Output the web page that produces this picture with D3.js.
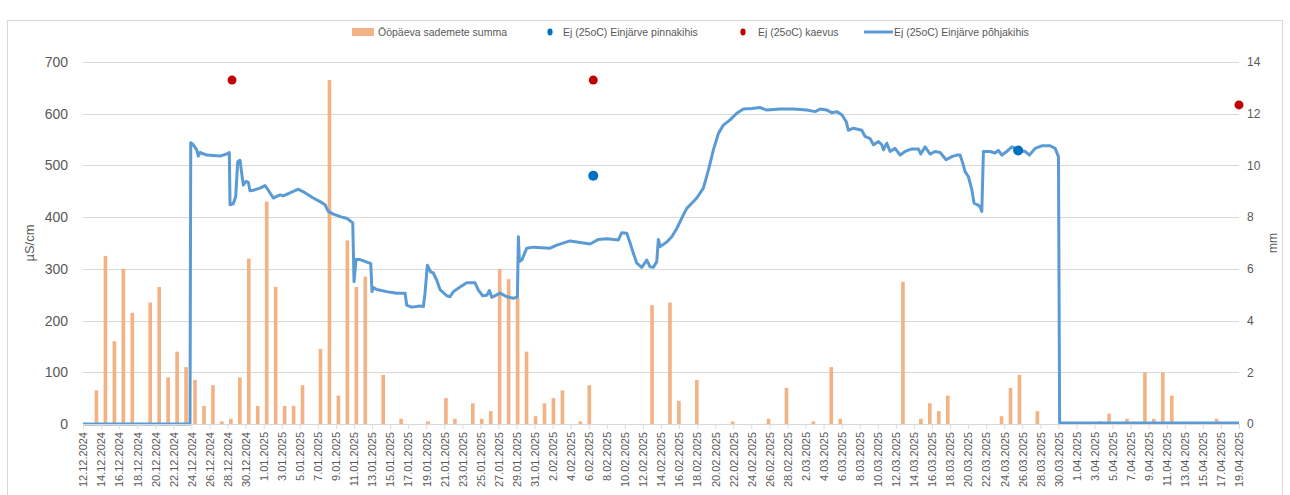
<!DOCTYPE html>
<html>
<head>
<meta charset="utf-8">
<script src="https://cdn.jsdelivr.net/npm/d3@7"></script>
<style>
  body { margin: 0; background: #fff; }
  text { font-family: "Liberation Sans", Arial, sans-serif; fill: #595959; }
</style>
</head>
<body>
<div id="wrapper"></div>
<script>
// days run from 12.12.2024 (day 0) to 19.04.2025 (day 128)
const startDay = "2024-12-12";
const dayCount = 129;

// daily precipitation sum, mm (right axis)
const precipitation = [
  0, 1.3, 6.5, 3.2, 6.0, 4.3, 0.05, 4.7, 5.3, 1.8,
  2.8, 2.2, 1.7, 0.7, 1.5, 0.1, 0.2, 1.8, 6.4, 0.7,
  8.6, 5.3, 0.7, 0.7, 1.5, 0, 2.9, 13.3, 1.1, 7.1,
  5.3, 5.7, 0, 1.9, 0, 0.2, 0, 0, 0.1, 0,
  1.0, 0.2, 0, 0.8, 0.2, 0.5, 6.0, 5.6, 4.9, 2.8,
  0.3, 0.8, 1.0, 1.3, 0, 0.1, 1.5, 0, 0, 0,
  0, 0, 0, 4.6, 0, 4.7, 0.9, 0, 1.7, 0,
  0, 0, 0.1, 0, 0, 0, 0.2, 0, 1.4, 0,
  0, 0.1, 0, 2.2, 0.2, 0, 0, 0, 0, 0,
  0, 5.5, 0, 0.2, 0.8, 0.5, 1.1, 0, 0, 0,
  0, 0, 0.3, 1.4, 1.9, 0, 0.5, 0, 0, 0,
  0, 0, 0, 0.1, 0.4, 0, 0.2, 0, 2.0, 0.2,
  2.0, 1.1, 0, 0, 0, 0, 0.2, 0, 0
];

// bottom layer conductivity, µS/cm (day offset, value)
const bottomDays = [
  0, 11.85, 11.93, 12.21, 12.59, 12.77, 12.96, 13.7, 15.17, 15.91,
  16.2, 16.28, 16.64, 16.91, 17.13, 17.39, 17.57, 17.75, 18.05, 18.31,
  18.49, 18.86, 19.6, 20.16, 20.52, 21.07, 21.45, 21.82, 22.18, 22.92,
  23.84, 24.4, 25.5, 26.25, 26.8, 27.16, 27.72, 28.65, 29.2, 29.87,
  30.01, 30.23, 30.68, 31.59, 31.86, 32.0, 32.15, 32.52, 33.63, 34.74,
  35.66, 35.84, 36.4, 37.32, 37.69, 37.87, 38.13, 38.5, 38.79, 39.17,
  39.53, 40.28, 40.64, 41.01, 41.75, 42.49, 43.41, 43.78, 44.26, 44.71,
  45.0, 45.26, 46.18, 46.92, 47.65, 48.1, 48.21, 48.32, 48.58, 49.14,
  49.87, 51.72, 52.46, 53.93, 55.04, 56.15, 57.07, 58.0, 59.28, 59.65,
  60.21, 60.58, 60.94, 61.32, 61.87, 62.43, 62.79, 63.16, 63.53, 63.71,
  63.9, 64.64, 65.19, 65.75, 66.3, 66.85, 67.41, 67.96, 68.69, 69.25,
  69.8, 70.36, 70.91, 71.65, 72.39, 73.12, 74.05, 74.97, 75.71, 77.19,
  78.66, 80.14, 81.06, 81.62, 82.36, 82.91, 83.46, 84.02, 84.5, 84.75,
  85.3, 86.23, 86.6, 87.15, 87.52, 88.07, 88.45, 88.63, 89.0, 89.37,
  89.92, 90.48, 91.03, 91.77, 92.5, 92.77, 93.24, 93.8, 94.35, 94.91,
  95.57, 96.2, 96.75, 97.12, 97.42, 97.67, 98.04, 98.42, 98.67, 99.04,
  99.34, 99.52, 99.7, 100.44, 100.99, 101.36, 101.74, 102.29, 102.85, 103.58,
  104.32, 104.8, 105.43, 106.17, 107.09, 107.64, 108.01, 108.14, 128
];
const bottomValues = [
  0, 0, 544, 540, 530, 518, 525, 520, 518, 522,
  525, 424, 426, 440, 507, 510, 485, 462, 469, 467,
  451, 452, 456, 461, 452, 437, 440, 443, 441, 447,
  454, 449, 437, 430, 424, 411, 406, 400, 398, 389,
  275, 318, 318, 312, 310, 256, 264, 260, 256, 253,
  253, 230, 226, 228, 227, 253, 307, 294, 292, 278,
  260, 248, 246, 256, 265, 273, 273, 259, 248, 249,
  258, 245, 253, 246, 243, 246, 362, 314, 317, 340,
  342, 340, 346, 354, 351, 348, 357, 358, 356, 370,
  369, 350, 330, 311, 303, 317, 304, 303, 314, 357,
  343, 352, 362, 378, 398, 417, 427, 437, 456, 491,
  530, 562, 578, 588, 601, 609, 610, 612, 607, 609,
  609, 607, 604, 609, 607, 602, 604, 598, 585, 568,
  572, 568, 556, 552, 540, 546, 540, 530, 543, 527,
  533, 520, 527, 532, 532, 522, 536, 522, 527, 525,
  511, 517, 520, 520, 504, 488, 478, 453, 427, 424,
  420, 411, 527, 527, 524, 529, 520, 527, 536, 530,
  527, 520, 533, 538, 538, 533, 517, 2, 2
];

// surface layer samples
const surfaceDays = [56.5, 103.55];
const surfaceValues = [480, 529];

// well samples
const wellDays = [16.5, 56.5, 128];
const wellValues = [665, 665, 617];

const leftTicks = [0, 100, 200, 300, 400, 500, 600, 700];
const rightTicks = [0, 2, 4, 6, 8, 10, 12, 14];
const legendLabels = [
  "Ööpäeva sademete summa",
  "Ej (25oC) Einjärve pinnakihis",
  "Ej (25oC) kaevus",
  "Ej (25oC) Einjärve põhjakihis"
];

function drawChart() {
  // 1. Access data
  const parseDay = d3.utcParse("%Y-%m-%d");
  const start = parseDay(startDay);
  const dayToDate = (d) => new Date(start.getTime() + d * 864e5);
  const formatDay = d3.utcFormat("%-d.%m.%Y");

  const colors = {
    bar: "#F4B183",
    line: "#5B9BD5",
    surface: "#0070C0",
    well: "#C00000",
    grid: "#D9D9D9",
  };

  // 2. Create chart dimensions
  let dimensions = {
    width: 1290,
    height: 495,
    margin: { top: 62, right: 51, bottom: 71, left: 83 },
  };
  dimensions.boundedWidth =
    dimensions.width - dimensions.margin.left - dimensions.margin.right;
  dimensions.boundedHeight =
    dimensions.height - dimensions.margin.top - dimensions.margin.bottom;

  // 3. Draw canvas
  const wrapper = d3
    .select("#wrapper")
    .append("svg")
    .attr("width", dimensions.width)
    .attr("height", dimensions.height);

  wrapper
    .append("rect")
    .attr("x", 7.5)
    .attr("y", 20.5)
    .attr("width", 1275)
    .attr("height", 520)
    .attr("fill", "none")
    .attr("stroke", colors.grid);

  const bounds = wrapper
    .append("g")
    .attr(
      "transform",
      `translate(${dimensions.margin.left}, ${dimensions.margin.top})`
    );

  // 4. Create scales
  const xScale = d3
    .scaleUtc()
    .domain([start, dayToDate(dayCount - 1)])
    .range([0, dimensions.boundedWidth]);

  const barScale = d3
    .scaleBand()
    .domain(d3.range(dayCount))
    .range([0, dimensions.boundedWidth]);

  const yScale = d3
    .scaleLinear()
    .domain([0, 700])
    .range([dimensions.boundedHeight, 0]);

  const yRightScale = d3
    .scaleLinear()
    .domain([0, 14])
    .range([dimensions.boundedHeight, 0]);

  // gridlines
  bounds
    .append("g")
    .selectAll("line")
    .data(leftTicks)
    .join("line")
    .attr("x1", 0)
    .attr("x2", dimensions.boundedWidth)
    .attr("y1", (d) => Math.round(yScale(d)) + 0.5)
    .attr("y2", (d) => Math.round(yScale(d)) + 0.5)
    .attr("stroke", colors.grid);

  // 5. Draw data
  const barWidth = 3.6;
  bounds
    .append("g")
    .selectAll("rect")
    .data(precipitation)
    .join("rect")
    .attr("x", (d, i) => barScale(i) + barScale.bandwidth() / 2 - barWidth / 2)
    .attr("y", (d) => yRightScale(d))
    .attr("width", barWidth)
    .attr("height", (d) => dimensions.boundedHeight - yRightScale(d))
    .attr("fill", colors.bar);

  const lineData = bottomDays.map((d, i) => [d, bottomValues[i]]);
  const lineGenerator = d3
    .line()
    .x((d) => xScale(dayToDate(d[0])))
    .y((d) => yScale(d[1]));

  bounds
    .append("path")
    .datum(lineData)
    .attr("d", lineGenerator)
    .attr("fill", "none")
    .attr("stroke", colors.line)
    .attr("stroke-width", 3)
    .attr("stroke-linejoin", "round");

  bounds
    .append("g")
    .selectAll("circle")
    .data(surfaceDays.map((d, i) => [d, surfaceValues[i]]))
    .join("circle")
    .attr("cx", (d) => xScale(dayToDate(d[0])))
    .attr("cy", (d) => yScale(d[1]))
    .attr("r", 5)
    .attr("fill", colors.surface);

  bounds
    .append("g")
    .selectAll("circle")
    .data(wellDays.map((d, i) => [d, wellValues[i]]))
    .join("circle")
    .attr("cx", (d) => xScale(dayToDate(d[0])))
    .attr("cy", (d) => yScale(d[1]))
    .attr("r", 4.5)
    .attr("fill", colors.well);

  // 6. Draw peripherals
  const tickDates = d3.range(0, dayCount, 2).map(dayToDate);
  const xAxisGenerator = d3
    .axisBottom(xScale)
    .tickValues(tickDates)
    .tickFormat(formatDay)
    .tickSize(5)
    .tickSizeOuter(0);

  const xAxis = bounds
    .append("g")
    .attr("transform", `translate(0, ${dimensions.boundedHeight})`)
    .call(xAxisGenerator);
  xAxis.select(".domain").attr("stroke", colors.grid);
  xAxis.selectAll(".tick line").attr("stroke", colors.grid);
  xAxis
    .selectAll(".tick text")
    .attr("transform", "rotate(-90)")
    .attr("text-anchor", "end")
    .attr("x", -8)
    .attr("y", 0)
    .attr("dy", "0.35em")
    .style("font-size", "11px")
    .style("fill", "#595959");

  const yAxis = bounds
    .append("g")
    .call(d3.axisLeft(yScale).tickValues(leftTicks).tickSize(0).tickPadding(15));
  yAxis.select(".domain").remove();
  yAxis.selectAll("text").style("font-size", "14px").style("fill", "#595959");

  const yRightAxis = bounds
    .append("g")
    .attr("transform", `translate(${dimensions.boundedWidth}, 0)`)
    .call(
      d3.axisRight(yRightScale).tickValues(rightTicks).tickSize(0).tickPadding(8)
    );
  yRightAxis.select(".domain").remove();
  yRightAxis.selectAll("text").style("font-size", "12px").style("fill", "#595959");

  wrapper
    .append("text")
    .attr("transform", "translate(34, 243) rotate(-90)")
    .attr("text-anchor", "middle")
    .style("font-size", "13px")
    .text("µS/cm");

  wrapper
    .append("text")
    .attr("transform", "translate(1277, 243) rotate(-90)")
    .attr("text-anchor", "middle")
    .style("font-size", "12px")
    .text("mm");

  // legend
  const legend = wrapper.append("g").attr("transform", "translate(0, 32)");
  const legendX = [378, 563, 758, 894];

  legend
    .append("rect")
    .attr("x", 352)
    .attr("y", -4)
    .attr("width", 22)
    .attr("height", 8)
    .attr("fill", colors.bar);
  legend
    .append("ellipse")
    .attr("cx", 550)
    .attr("cy", 0)
    .attr("rx", 2.6)
    .attr("ry", 3.4)
    .attr("fill", colors.surface);
  legend
    .append("ellipse")
    .attr("cx", 743)
    .attr("cy", 0)
    .attr("rx", 2.6)
    .attr("ry", 3.4)
    .attr("fill", colors.well);
  legend
    .append("line")
    .attr("x1", 864)
    .attr("x2", 893)
    .attr("y1", 0)
    .attr("y2", 0)
    .attr("stroke", colors.line)
    .attr("stroke-width", 3);

  legend
    .selectAll("text")
    .data(legendLabels)
    .join("text")
    .attr("x", (d, i) => legendX[i])
    .attr("y", 0)
    .attr("dy", "0.35em")
    .style("font-size", "10.5px")
    .text((d) => d);
}
drawChart();
</script>
</body>
</html>
